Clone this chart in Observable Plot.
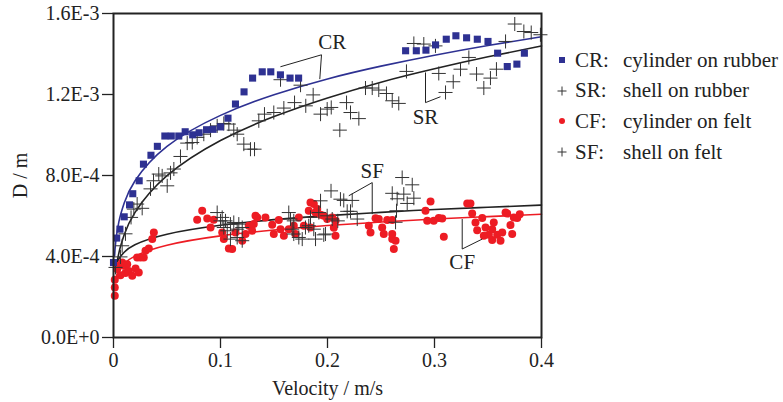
<!DOCTYPE html>
<html>
<head>
<meta charset="utf-8">
<script src="https://cdn.jsdelivr.net/npm/d3@7"></script>
<script src="https://cdn.jsdelivr.net/npm/@observablehq/plot@0.6"></script>
<style>
  html, body { margin: 0; padding: 0; background: #fff; }
  #wrap { position: relative; width: 783px; height: 402px; font-family: "Liberation Serif", "DejaVu Serif", serif; color: #222; }
  #legend { position: absolute; left: 552px; top: 45px; font-size: 21px; }
  .row { height: 30.6px; display: flex; align-items: center; white-space: nowrap; }
  .mk { width: 20px; display: flex; justify-content: center; align-items: center; }
  .code { width: 48px; margin-left: 3px; }
  svg text { font-family: "Liberation Serif", "DejaVu Serif", serif; }
</style>
</head>
<body>
<div id="wrap"><div id="chart"></div><div id="legend"></div></div>
<script>
// ---- Data (D in units of 1e-4 m, velocity in m/s) ----
const crV = [0.000,0.003,0.006,0.010,0.015,0.018,0.024,0.028,0.035,0.041,0.048,0.054,0.061,0.067,0.074,0.080,0.087,0.093,0.100,0.107,0.114,0.122,0.130,0.139,0.147,0.156,0.165,0.173,0.273,0.283,0.292,0.301,0.311,0.320,0.330,0.340,0.350,0.359,0.368,0.377,0.384];
const crD = [3.70,4.91,5.35,5.96,6.55,7.10,7.74,8.56,9.00,9.44,9.95,9.95,9.95,10.16,10.01,10.11,10.26,10.28,10.40,10.83,11.53,12.13,12.81,13.12,13.12,12.97,12.81,12.81,14.16,14.16,14.19,14.45,14.73,14.90,14.80,14.73,14.62,14.04,13.38,13.50,14.04];

const srV = [0.0065,0.0081,0.0112,0.0164,0.019,0.0221,0.0268,0.0346,0.0374,0.0423,0.0502,0.0455,0.0533,0.0564,0.0626,0.0689,0.0736,0.0782,0.0844,0.0907,0.0969,0.1031,0.1078,0.1124,0.1156,0.1218,0.128,0.1318,0.1358,0.1411,0.1498,0.1561,0.1592,0.1692,0.1748,0.1797,0.1866,0.1935,0.1997,0.2035,0.2115,0.2178,0.2215,0.2293,0.2355,0.2418,0.2479,0.2551,0.2605,0.2666,0.2738,0.2807,0.29,0.3009,0.304,0.3103,0.3175,0.3243,0.3321,0.3393,0.3461,0.3523,0.3579,0.3664,0.375,0.3835,0.3904,0.399];
const srD = [3.98,4.53,5.12,5.93,6.34,6.59,6.38,7.34,7.74,8.07,7.49,7.98,8.13,8.32,8.94,9.60,9.63,9.88,10.04,10.24,10.45,10.57,10.54,10.24,10.04,9.55,9.30,9.30,10.70,11.03,11.11,12.73,11.33,11.60,12.46,11.44,11.98,11.03,11.28,11.36,10.24,11.60,11.11,10.81,12.32,12.32,12.22,12.05,11.69,11.56,13.14,14.52,14.49,14.40,13.04,12.10,12.63,13.25,13.83,13.01,12.32,12.81,13.25,14.62,15.48,15.11,15.06,14.95];

const cfV = [0.0012,0.0012,0.0012,0.0035,0.005,0.0065,0.0081,0.0096,0.0112,0.0128,0.0143,0.0175,0.0206,0.0236,0.0221,0.0252,0.0283,0.0299,0.033,0.0362,0.0377,0.0782,0.0829,0.0876,0.0937,0.0907,0.1016,0.1031,0.1078,0.1109,0.114,0.1203,0.1234,0.1264,0.1296,0.1327,0.1343,0.142,0.1311,0.1483,0.1498,0.1545,0.1561,0.1592,0.1638,0.1685,0.1701,0.1732,0.1779,0.1825,0.1841,0.1872,0.1904,0.1888,0.1935,0.1965,0.1997,0.2044,0.2075,0.2059,0.2075,0.1841,0.2386,0.2402,0.2449,0.2479,0.2511,0.2526,0.2558,0.2605,0.2605,0.2605,0.2636,0.262,0.2916,0.2963,0.2932,0.2993,0.304,0.3072,0.3087,0.3306,0.3336,0.3352,0.3383,0.3399,0.3446,0.3477,0.3508,0.3539,0.3554,0.3539,0.3586,0.3617,0.3633,0.3664,0.3679,0.371,0.3726,0.3741,0.3773,0.3797,0.3461];
const cfD = [2.06,2.47,2.85,3.38,3.54,3.08,3.70,3.54,3.18,3.62,3.29,3.05,3.41,3.21,3.95,3.95,3.95,4.28,4.39,4.86,5.18,5.81,6.26,5.88,5.81,5.43,5.18,4.86,4.39,4.37,5.18,4.78,5.11,5.52,5.27,6.01,5.93,5.93,5.60,5.57,5.11,5.80,5.35,5.02,5.35,5.52,5.11,5.93,5.52,6.26,6.67,6.59,6.34,6.17,6.06,6.01,5.85,5.93,5.76,5.42,5.02,5.43,5.52,5.18,5.89,5.85,5.43,5.11,5.80,5.80,5.11,4.86,4.78,4.37,6.26,6.72,5.76,5.76,5.90,5.88,4.97,6.62,6.62,6.12,5.68,5.30,5.90,5.43,5.07,4.81,5.68,5.35,5.07,4.78,5.18,6.17,6.12,5.55,5.11,5.93,5.90,6.09,5.02];

const sfV = [0.0019,0.0969,0.1016,0.1,0.1047,0.1093,0.1124,0.1171,0.1203,0.1156,0.1063,0.1093,0.1156,0.1203,0.1638,0.1654,0.1685,0.167,0.1685,0.1732,0.1764,0.1794,0.1825,0.1872,0.1888,0.1981,0.1841,0.1919,0.1997,0.2044,0.2096,0.2033,0.1935,0.2121,0.2152,0.2231,0.2184,0.2215,0.2278,0.2698,0.2792,0.2605,0.2651,0.2713,0.2745,0.2807,0.2645,0.2636,0.1965,0.1031];
const sfD = [3.46,6.17,5.93,5.76,5.76,5.60,5.68,5.60,5.43,5.35,5.27,4.86,4.94,4.78,6.17,5.85,5.76,5.35,5.11,4.94,4.86,5.43,5.52,5.35,4.86,5.11,5.93,6.17,6.01,5.85,5.76,7.24,6.75,6.83,6.77,6.77,6.23,6.23,5.85,7.90,7.54,7.12,6.85,7.08,6.62,6.88,6.26,5.69,5.07,5.43];

// fitted curves
const crFitV = [0.001,0.002,0.005,0.01,0.02,0.05,0.1,0.15,0.2,0.25,0.3,0.35,0.4];
const crFitD = [4.03,4.68,5.71,6.64,7.73,9.44,10.97,11.99,12.77,13.40,13.94,14.42,14.85];
const fitV   = [0.002,0.005,0.01,0.02,0.05,0.1,0.15,0.2,0.25,0.3,0.35,0.4];
const srFitD = [3.21,4.17,5.07,6.17,7.99,9.73,10.91,11.83,12.61,13.27,13.86,14.40];
const sfFitD = [3.48,3.88,4.21,4.58,5.10,5.54,5.82,6.02,6.18,6.32,6.43,6.54];
const cfFitD = [2.92,3.32,3.65,4.02,4.56,5.02,5.31,5.53,5.70,5.85,5.97,6.09];

// annotations
const annText = ["CR","SR","SF","CF"];
const annV    = [0.2044,0.2916,0.2418,0.3259];
const annD    = [14.57,10.86,8.23,3.70];
const joinV   = [0.1944,0.2916,0.2418,0.3259];
const joinD   = [13.96,11.60,7.65,4.37];
const toCurveV = [0.1928,0.2916,0.2418,0.3259];
const toCurveD = [12.76,13.09,6.09,5.85];
const toDataV  = [0.156,0.3056,0.2199,0.3446];
const toDataD  = [13.37,11.89,7.00,4.86];

// axes
const xTicks = [0,0.1,0.2,0.3,0.4];
const xTickLabels = ["0","0.1","0.2","0.3","0.4"];
const yTicks = [0,4,8,12,16];
const yTickLabels = ["0.0E+0","4.0E-4","8.0E-4","1.2E-3","1.6E-3"];

// legend
const legCodes = ["CR:","SR:","CF:","SF:"];
const legDesc = ["cylinder on rubber","shell on rubber","cylinder on felt","shell on felt"];

// ---- build ----
const FONT = '"Liberation Serif", "DejaVu Serif", serif';
const BLUE = "#2e3192", RED = "#ed1c24", INK = "#222";
const pts = (V, D) => V.map((v, i) => ({v, d: D[i]}));
const cr = pts(crV, crD), sr = pts(srV, srD), cf = pts(cfV, cfD), sf = pts(sfV, sfD);
const crFit = pts(crFitV, crFitD), srFit = pts(fitV, srFitD), sfFit = pts(fitV, sfFitD), cfFit = pts(fitV, cfFitD);
const ann = annText.map((t, i) => ({t, v: annV[i], d: annD[i], jv: joinV[i], jd: joinD[i], cv: toCurveV[i], cd: toCurveD[i], dv: toDataV[i], dd: toDataD[i]}));
const xMap = new Map(xTicks.map((t, i) => [t, xTickLabels[i]]));
const yMap = new Map(yTicks.map((t, i) => [t, yTickLabels[i]]));

const chart = Plot.plot({
  width: 783, height: 402,
  marginLeft: 113, marginRight: 242, marginTop: 13, marginBottom: 65,
  x: {domain: [0, 0.4]},
  y: {domain: [0, 16]},
  style: {fontFamily: FONT, fontSize: "20px", color: INK, background: "white", overflow: "visible"},
  marks: [
    Plot.axisX({ticks: xTicks, tickFormat: d => xMap.get(d), tickSize: 11, tickPadding: 4, strokeWidth: 1.3,
      label: "Velocity / m/s", labelAnchor: "center", labelOffset: 57, labelArrow: "none"}),
    Plot.axisY({ticks: yTicks, tickFormat: d => yMap.get(d), tickSize: 11, tickPadding: 3, strokeWidth: 1.3,
      label: "D / m", labelAnchor: "center", labelOffset: 101, labelArrow: "none"}),
    Plot.line(crFit, {x: "v", y: "d", stroke: BLUE, strokeWidth: 1.6, curve: "natural"}),
    Plot.line(srFit, {x: "v", y: "d", stroke: INK, strokeWidth: 1.6, curve: "natural"}),
    Plot.line(sfFit, {x: "v", y: "d", stroke: INK, strokeWidth: 1.6, curve: "natural"}),
    Plot.line(cfFit, {x: "v", y: "d", stroke: RED, strokeWidth: 1.6, curve: "natural"}),
    Plot.dot(cf, {x: "v", y: "d", r: 4, fill: RED, stroke: "none"}),
    Plot.dot(sr, {x: "v", y: "d", r: 4.6, symbol: "plus", stroke: "#333", strokeWidth: 1}),
    Plot.dot(sf, {x: "v", y: "d", r: 4.6, symbol: "plus", stroke: "#333", strokeWidth: 1}),
    Plot.dot(cr, {x: "v", y: "d", r: 4, symbol: "square", fill: BLUE, stroke: "none"}),
    Plot.link(ann, {x1: "jv", y1: "jd", x2: "cv", y2: "cd", stroke: INK, strokeWidth: 1}),
    Plot.link(ann, {x1: "jv", y1: "jd", x2: "dv", y2: "dd", stroke: INK, strokeWidth: 1}),
    Plot.text(ann, {x: "v", y: "d", text: "t", fontSize: 21, fill: INK}),
    Plot.frame({stroke: INK, strokeWidth: 2})
  ]
});
document.getElementById("chart").appendChild(chart);

const markers = [
  '<svg width="10" height="10"><rect x="2" y="2" width="6" height="6" fill="' + BLUE + '"/></svg>',
  '<svg width="12" height="12"><path d="M6 1.5V10.5M1.5 6H10.5" stroke="#333" stroke-width="1"/></svg>',
  '<svg width="10" height="10"><circle cx="5" cy="5" r="3" fill="' + RED + '"/></svg>',
  '<svg width="12" height="12"><path d="M6 1.5V10.5M1.5 6H10.5" stroke="#333" stroke-width="1"/></svg>'
];
const leg = document.getElementById("legend");
legCodes.forEach((c, i) => {
  const row = document.createElement("div");
  row.className = "row";
  row.innerHTML = '<span class="mk">' + markers[i] + '</span><span class="code">' + c + '</span><span>' + legDesc[i] + '</span>';
  leg.appendChild(row);
});
</script>
</body>
</html>
